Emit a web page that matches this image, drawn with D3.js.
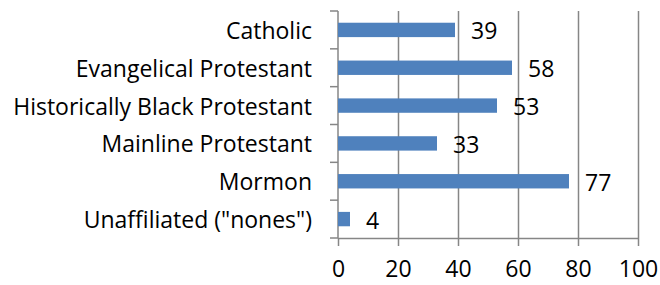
<!DOCTYPE html>
<html>
<head>
<meta charset="utf-8">
<script src="https://cdn.jsdelivr.net/npm/d3@7"></script>
<style>
  body { margin: 0; background: #fff; }
  text { font-family: "Open Sans", sans-serif; fill: #000; }
</style>
</head>
<body>
<script>
const categories = ["Catholic", "Evangelical Protestant", "Historically Black Protestant",
  "Mainline Protestant", "Mormon", "Unaffiliated (\"nones\")"];
const values = [39, 58, 53, 33, 77, 4];
const xTicks = [0, 20, 40, 60, 80, 100];

const width = 660, height = 285;
const margin = {top: 11, right: 22, bottom: 47, left: 338};
const fontSize = 23;
const fontFamily = '"Open Sans", sans-serif';
const gridColor = "#868686";

const svg = d3.select("body").append("svg")
    .attr("width", width)
    .attr("height", height);

const x = d3.scaleLinear()
    .domain([0, 100])
    .range([margin.left, width - margin.right]);

const y = d3.scaleBand()
    .domain(categories)
    .range([margin.top, height - margin.bottom])
    .paddingInner(0.62)
    .paddingOuter(0.31);

// vertical gridlines
svg.append("g")
  .selectAll("line")
  .data(xTicks.slice(1))
  .join("line")
    .attr("x1", d => Math.round(x(d)) + 0.5)
    .attr("x2", d => Math.round(x(d)) + 0.5)
    .attr("y1", y.range()[0])
    .attr("y2", y.range()[1])
    .attr("stroke", gridColor)
    .attr("stroke-width", 1.5);

// x axis
const xAxis = svg.append("g")
    .attr("transform", `translate(0,${y.range()[1]})`)
    .call(d3.axisBottom(x).tickValues(xTicks).tickSize(8).tickSizeOuter(0).tickPadding(15));
xAxis.select(".domain").attr("stroke", gridColor).attr("stroke-width", 1.5);
xAxis.selectAll(".tick line").attr("stroke", gridColor).attr("stroke-width", 1.5);
xAxis.selectAll("text")
    .style("font-size", fontSize + "px")
    .style("font-family", fontFamily)
    .attr("fill", "#000");

// y axis: line plus ticks at band boundaries
const half = (y.step() - y.bandwidth()) / 2;
const bounds = categories.map(c => y(c) - half).concat([y.range()[1]]);
const yAxis = svg.append("g");
yAxis.append("line")
    .attr("x1", x(0)).attr("x2", x(0))
    .attr("y1", y.range()[0]).attr("y2", y.range()[1])
    .attr("stroke", gridColor).attr("stroke-width", 1.5);
yAxis.selectAll(".tk")
  .data(bounds)
  .join("line")
    .attr("class", "tk")
    .attr("x1", x(0) - 8).attr("x2", x(0))
    .attr("y1", d => d).attr("y2", d => d)
    .attr("stroke", gridColor).attr("stroke-width", 1.5);
yAxis.selectAll("text")
  .data(categories)
  .join("text")
    .attr("x", 312)
    .attr("y", d => y(d) + y.bandwidth() / 2 + 1)
    .attr("dy", "0.35em")
    .attr("text-anchor", "end")
    .style("font-size", fontSize + "px")
    .text(d => d);

// bars
const data = categories.map((c, i) => ({cat: c, value: values[i]}));
svg.append("g")
  .selectAll("rect")
  .data(data)
  .join("rect")
    .attr("x", x(0))
    .attr("y", d => y(d.cat))
    .attr("width", d => x(d.value) - x(0))
    .attr("height", y.bandwidth())
    .attr("fill", "#4F81BD");

// value labels
svg.append("g")
  .selectAll("text")
  .data(data)
  .join("text")
    .attr("x", d => x(d.value) + 16)
    .attr("y", d => y(d.cat) + y.bandwidth() / 2 + 1.5)
    .attr("dy", "0.35em")
    .style("font-size", fontSize + "px")
    .text(d => d.value);
</script>
</body>
</html>
